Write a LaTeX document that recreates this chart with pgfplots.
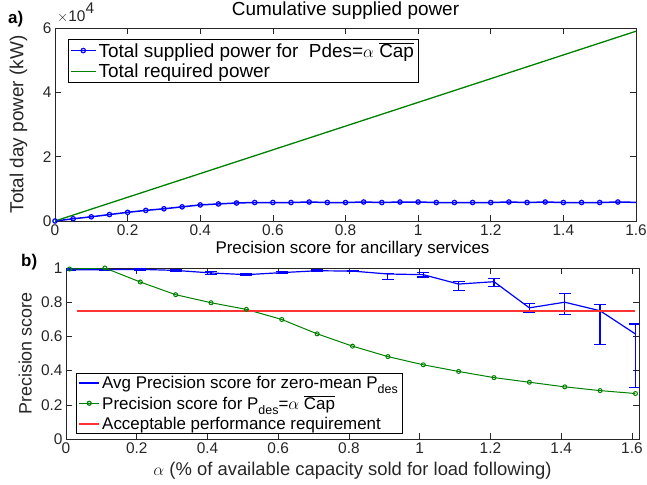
\documentclass[border=0pt]{standalone}
\usepackage{pgfplots}
\pgfplotsset{compat=1.18}
\usepackage{pgfplotstable}
\usepackage{fontspec}
\setmainfont{Liberation Sans}
\definecolor{mblue}{rgb}{0,0,1}
\definecolor{mgreen}{rgb}{0,0.5,0}
\definecolor{mred}{rgb}{1,0.2,0.2}
\definecolor{axgray}{gray}{0.15}
\newcommand{\tickfont}{\fontsize{15.5}{17}\selectfont}
\newcommand{\labfont}{\fontsize{17}{20}\selectfont}
\newcommand{\biglabfont}{\fontsize{19}{23}\selectfont}
\newcommand{\des}{\raisebox{-5bp}{\fontsize{12.5}{13}\selectfont des}}

\pgfplotstableread{
x y ep em
0.01 0.990 0.004 0.004
0.11 0.990 0.003 0.003
0.21 0.992 0.004 0.004
0.31 0.986 0.004 0.004
0.41 0.971 0.010 0.010
0.51 0.961 0.004 0.004
0.61 0.973 0.007 0.007
0.71 0.984 0.004 0.004
0.81 0.982 0.004 0.004
0.91 0.965 0.002 0.033
1.01 0.961 0.014 0.014
1.11 0.906 0.014 0.037
1.21 0.920 0.018 0.026
1.31 0.767 0.027 0.025
1.41 0.800 0.051 0.070
1.51 0.750 0.035 0.197
1.61 0.614 0.059 0.311
}\avgtable

\pgfplotsset{
  mystyle/.style={
    scale only axis,
    axis line style={axgray, line width=0.6bp},
    tick style={axgray, line width=0.6bp},
    major tick length=6bp,
    tick align=inside,
    ticklabel style={font=\tickfont, text=axgray},
    /pgf/number format/assume math mode=true,
    label style={text=axgray},
    legend style={draw=black, inner xsep=2bp, inner ysep=1bp, cells={anchor=west}},
  },
}

\begin{document}
\begin{tikzpicture}
\path[use as bounding box] (0bp,0bp) rectangle (647bp,-485bp);

\begin{axis}[mystyle,
  at={(55bp,-221bp)}, anchor=south west,
  width=581bp, height=193bp,
  xmin=0, xmax=1.6, ymin=0, ymax=60000,
  xtick={0,0.2,0.4,0.6,0.8,1,1.2,1.4,1.6},
  ytick={0,20000,40000,60000},
  scaled y ticks=true,
  ytick scale label code/.code={\tickfont$\times$10\raisebox{8bp}{#1}},
  every y tick scale label/.style={at={(rel axis cs:0,1)}, anchor=south west, inner sep=0pt, xshift=2bp, yshift=5bp},
  title={Cumulative supplied power},
  title style={at={(0.5,1)}, anchor=base, yshift=7bp, inner sep=0pt, font=\fontsize{19}{22}\selectfont},
  ylabel={Total day power (kW)},
  ylabel style={at={(axis description cs:-0.063,0.5)}, anchor=center, font=\biglabfont},
  legend style={at={(0.022,0.943)}, anchor=north west, font=\biglabfont, row sep=1bp},
]
\addplot[mblue, line width=1.5bp, mark=o, mark size=2.2bp, mark options={line width=1.2bp}, forget plot,
  mark indices={1,2,3,4,5,6,7,8,9,10,11,12,13,14,15,16,17,18,19,20,21,22,23,24,25,26,27,28,29,30,31,32}]
coordinates {
(0,0) (0.05,700) (0.10,1300) (0.15,2000) (0.20,2700) (0.25,3300) (0.30,3800) (0.35,4400)
(0.40,5000) (0.45,5300) (0.50,5600) (0.55,5750) (0.60,5750) (0.65,5750) (0.70,5900) (0.75,5750)
(0.80,5750) (0.85,5900) (0.90,5750) (0.95,5900) (1.00,5900) (1.05,5750) (1.10,5750) (1.15,5750)
(1.20,5750) (1.25,5900) (1.30,5750) (1.35,5900) (1.40,5750) (1.45,5750) (1.50,5750) (1.55,5900)
(1.60,5800)
};
\addplot[mgreen, line width=1.3bp, forget plot] coordinates {(0,0) (1.6,59000)};
\addlegendimage{legend image code/.code={\draw[mblue, line width=1.6bp] (0bp,0bp) -- (25bp,0bp); \draw[mblue, line width=1.2bp] (12.5bp,0bp) circle[radius=2.2bp];}}
\addlegendentry{Total supplied power for\ \ Pdes=$\alpha$ $\overline{\mbox{Cap}}$}
\addlegendimage{legend image code/.code={\draw[mgreen, line width=1.6bp] (0bp,0bp) -- (25bp,0bp);}}
\addlegendentry{Total required power}
\end{axis}

\begin{axis}[mystyle,
  at={(66bp,-439bp)}, anchor=south west,
  width=573bp, height=171bp,
  xmin=0, xmax=1.62, ymin=0, ymax=1,
  xtick={0,0.2,0.4,0.6,0.8,1,1.2,1.4,1.6},
  ytick={0,0.2,0.4,0.6,0.8,1},
  title={Precision score for ancillary services},
  title style={at={(0.5,1)}, anchor=base, yshift=9bp, inner sep=0pt, font=\labfont},
  xlabel={$\alpha$ (\% of available capacity sold for load following)},
  xlabel style={at={(0.5,0)}, anchor=base, yshift=-36bp, inner sep=0pt, font=\fontsize{18.5}{22}\selectfont},
  ylabel={Precision score},
  ylabel style={at={(axis description cs:-0.071,0.5)}, anchor=center, font=\fontsize{18}{22}\selectfont},
  legend style={at={(0.0175,0.03)}, anchor=south west, font=\labfont, row sep=2bp},
]
\addplot[mblue, line width=1.2bp, mark=none, forget plot,
  error bars/.cd, y dir=both, y explicit,
  error bar style={line width=1.2bp, mblue},
  error mark options={rotate=90, mark size=6bp, line width=1.2bp, mblue}]
  table[x=x, y=y, y error plus=ep, y error minus=em] {\avgtable};
\addplot[mgreen, line width=1bp, mark=o, mark size=2bp, mark options={line width=1bp}, forget plot] coordinates {
(0.01,0.994) (0.11,1.0) (0.21,0.918) (0.31,0.844) (0.41,0.797) (0.51,0.758) (0.61,0.699)
(0.71,0.615) (0.81,0.543) (0.91,0.482) (1.01,0.434) (1.11,0.395) (1.21,0.359) (1.31,0.332)
(1.41,0.305) (1.51,0.283) (1.61,0.266)
};
\addplot[mred, line width=1.5bp, forget plot] coordinates {(0.03,0.75) (1.61,0.75)};
\addlegendimage{legend image code/.code={\draw[mblue, line width=1.5bp] (0bp,0bp) -- (20bp,0bp);}}
\addlegendentry{Avg Precision score for zero-mean P\des}
\addlegendimage{legend image code/.code={\draw[mgreen, line width=1.3bp] (0bp,0bp) -- (20bp,0bp); \draw[mgreen, line width=1.2bp] (10bp,0bp) circle[radius=2bp];}}
\addlegendentry{Precision score for P\des=$\alpha$ $\overline{\mbox{Cap}}$}
\addlegendimage{legend image code/.code={\draw[mred, line width=2bp] (0bp,0bp) -- (20bp,0bp);}}
\addlegendentry{Acceptable performance requirement}
\end{axis}

\node[font=\bfseries\labfont, anchor=base west, inner sep=0pt] at (8bp,-23bp) {a)};
\node[font=\bfseries\labfont, anchor=base west, inner sep=0pt] at (21bp,-266bp) {b)};
\end{tikzpicture}
\end{document}
